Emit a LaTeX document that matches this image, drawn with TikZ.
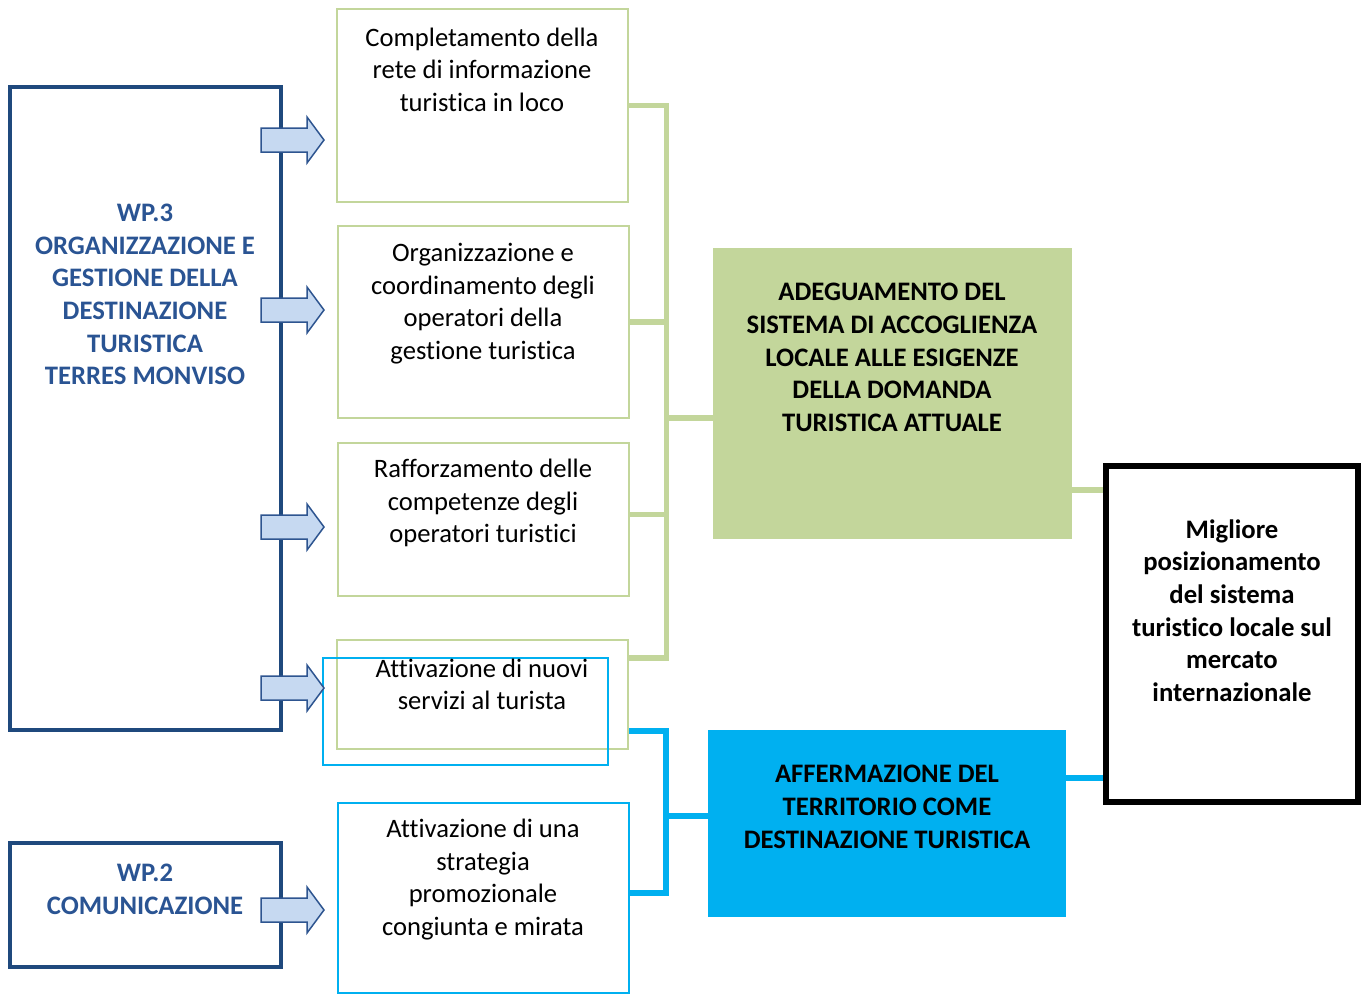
\documentclass[tikz,border=0pt]{standalone}
\usepackage{fontspec}
\setmainfont{Carlito}[Ligatures=NoCommon]
\usetikzlibrary{calc}
\definecolor{wpblue}{HTML}{1F497D}
\definecolor{wptext}{HTML}{2A5493}
\definecolor{lgreen}{HTML}{C3D69B}
\definecolor{cyanb}{HTML}{00B0F0}
\definecolor{arrfill}{HTML}{C6D9F1}
\definecolor{arrline}{HTML}{2E5590}
\begin{document}
\begin{tikzpicture}[x=1pt,y=-1pt,
  box/.style={draw, rectangle, inner sep=0pt, line width=2pt},
  gbox/.style={box, draw=lgreen},
  cbox/.style={box, draw=cyanb},
  body/.style={align=center, font=\fontsize{26.6}{32.5}\selectfont, inner sep=0pt},
  bodyb/.style={body, font=\fontsize{26.7}{32.7}\selectfont\bfseries},
  wptxt/.style={bodyb, text=wptext},
  gline/.style={draw=lgreen, line width=5.5pt},
  cline/.style={draw=cyanb, line width=5.5pt},
  blockarrow/.style={fill=arrfill, draw=arrline, line width=1.5pt, line join=miter}
]
\useasboundingbox (0,0) rectangle (1367,994);

% WP boxes
\node[box, draw=wpblue, line width=4pt, minimum width=271pt, minimum height=643pt] (wp3) at (145.5,408.5) {};
\node[box, draw=wpblue, line width=4pt, minimum width=271pt, minimum height=124pt] (wp2) at (145.5,905) {};
\node[wptxt] (wp3t) at (145,294.5) {WP.3\\ORGANIZZAZIONE E\\GESTIONE DELLA\\DESTINAZIONE\\TURISTICA\\TERRES MONVISO};
\node[wptxt] (wp2t) at (145,889) {WP.2\\COMUNICAZIONE};

% activity boxes
\node[gbox, minimum width=291pt, minimum height=193pt] (b1) at (482.5,105.5) {};
\node[gbox, minimum width=291pt, minimum height=192pt] (b2) at (483.5,322) {};
\node[gbox, minimum width=291pt, minimum height=153pt] (b3) at (483.5,519.5) {};
\node[gbox, minimum width=291pt, minimum height=109pt] (b4) at (482.5,694.5) {};
\node[cbox, minimum width=285pt, minimum height=107pt] (b4c) at (465.5,711.5) {};
\node[cbox, minimum width=291pt, minimum height=190pt] (b5) at (483.5,898) {};

\node[body] (t1) at (482,69.5) {Completamento della\\rete di informazione\\turistica in loco};
\node[body] (t2) at (483,303.5) {Organizzazione e\\coordinamento degli\\operatori della\\gestione turistica};
\node[body] (t3) at (483,503) {Rafforzamento delle\\competenze degli\\operatori turistici};
\node[body] (t4) at (482,684.5) {Attivazione di nuovi\\servizi al turista};
\node[body] (t5) at (483,879.5) {Attivazione di una\\strategia\\promozionale\\congiunta e mirata};

% result boxes
\node[rectangle, fill=lgreen, inner sep=0pt, minimum width=359pt, minimum height=291pt] (g) at (892.5,393.5) {};
\node[bodyb] (gt) at (892,357.5) {ADEGUAMENTO DEL\\SISTEMA DI ACCOGLIENZA\\LOCALE ALLE ESIGENZE\\DELLA DOMANDA\\TURISTICA ATTUALE};
\node[rectangle, fill=cyanb, inner sep=0pt, minimum width=358pt, minimum height=187pt] (c) at (887,823.5) {};
\node[bodyb] (ct) at (887,807) {AFFERMAZIONE DEL\\TERRITORIO COME\\DESTINAZIONE TURISTICA};
\node[box, draw=black, line width=5.5pt, minimum width=252pt, minimum height=336pt] (k) at (1232,634) {};
\node[bodyb] (kt) at (1232,610.5) {Migliore\\posizionamento\\del sistema\\turistico locale sul\\mercato\\internazionale};

% green bracket
\coordinate (gs1) at (666.5,105.5);
\coordinate (gs4) at (666.5,658);
\coordinate (gmid) at (666.5,418);
\draw[gline] (b1.east) -- (gs1);
\draw[gline] (b2.east) -- (b2.east -| gs1);
\draw[gline] ($(b3.east)+(0,-5)$) -- ($(b3.east -| gs1)+(0,-5)$);
\draw[gline] (b4.east |- gs4) -- (gs4);
\draw[gline, line cap=rect] (gs1) -- (gs4);
\draw[gline] (gmid) -- (g.west |- gmid);
\draw[gline] (g.east |- 0,490) -- (k.west |- 0,490);

% blue bracket
\coordinate (cs1) at (666,731);
\coordinate (cs2) at (666,893);
\coordinate (cmid) at (666,816);
\draw[cline] (b4.east |- cs1) -- (cs1);
\draw[cline] (b5.east |- cs2) -- (cs2);
\draw[cline, line cap=rect] (cs1) -- (cs2);
\draw[cline] (cmid) -- (c.west |- cmid);
\draw[cline] (c.east |- 0,778) -- (k.west |- 0,778);

% block arrows
\foreach \n/\y in {a1/140, a2/310, a3/527, a4/688, a5/910}{
  \draw[blockarrow] (261,\y-12) -- (307,\y-12) -- (307,\y-23) -- (324,\y) -- (307,\y+23) -- (307,\y+12) -- (261,\y+12) -- cycle;
}
\end{tikzpicture}
\end{document}
